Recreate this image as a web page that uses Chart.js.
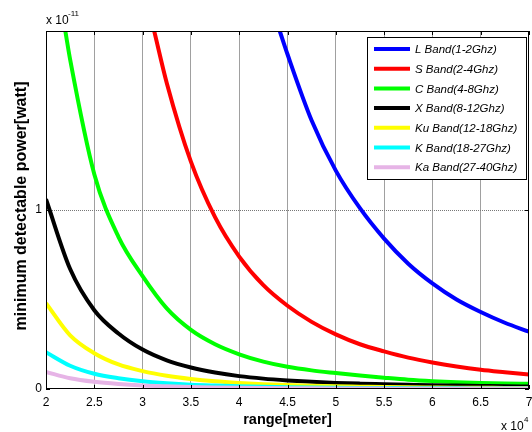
<!DOCTYPE html>
<html>
<head>
<meta charset="utf-8">
<script src="https://cdn.jsdelivr.net/npm/chart.js@4.4.1/dist/chart.umd.min.js"></script>
<style>
  body { margin: 0; background: #fff; }
  canvas { display: block; }
</style>
</head>
<body>
<canvas id="chart" width="532" height="432"></canvas>
<script>
// range in units of 10^4 m, power in units of 10^-11 W
const xs = [2, 2.25, 2.5, 2.75, 3, 3.25, 3.5, 3.75, 4, 4.25, 4.5, 4.75, 5, 5.25, 5.5, 5.75, 6, 6.25, 6.5, 6.75, 7];

const xL = [4.42, 4.5, 4.75, 5, 5.25, 5.5, 5.75, 6, 6.25, 6.5, 6.75, 7];
const bandL = [2.0, 1.87, 1.50, 1.22, 1.01, 0.84, 0.70, 0.59, 0.50, 0.43, 0.37, 0.32];

const xS = [3.12, 3.25, 3.5, 3.75, 4, 4.25, 4.5, 4.75, 5, 5.25, 5.5, 5.75, 6, 6.25, 6.5, 6.75, 7];
const bandS = [2.0, 1.71, 1.27, 0.96, 0.74, 0.58, 0.465, 0.375, 0.305, 0.25, 0.21, 0.175, 0.148, 0.126, 0.108, 0.094, 0.081];

const xC = [2.2, 2.25, 2.5, 2.75, 3, 3.25, 3.5, 3.75, 4, 4.25, 4.5, 4.75, 5, 5.25, 5.5, 5.75, 6, 6.25, 6.5, 6.75, 7];
const bandC = [2.0, 1.84, 1.20, 0.85, 0.63, 0.45, 0.33, 0.25, 0.194, 0.153, 0.124, 0.104, 0.089, 0.075, 0.063, 0.052, 0.044, 0.038, 0.034, 0.031, 0.029];

const bandX = [1.06, 0.67, 0.44, 0.31, 0.22, 0.16, 0.12, 0.092, 0.072, 0.058, 0.048, 0.040, 0.034, 0.030, 0.027, 0.024, 0.021, 0.019, 0.017, 0.015, 0.014];
const bandKu = [0.48, 0.30, 0.20, 0.137, 0.10, 0.074, 0.056, 0.043, 0.034, 0.027, 0.022, 0.018, 0.015, 0.013, 0.011, 0.0095, 0.0085, 0.0075, 0.0068, 0.006, 0.0055];
const bandK = [0.205, 0.13, 0.085, 0.06, 0.043, 0.032, 0.024, 0.019, 0.015, 0.012, 0.010, 0.0085, 0.0072, 0.0062, 0.0054, 0.0047, 0.0042, 0.0037, 0.0033, 0.003, 0.0027];
const bandKa = [0.096, 0.06, 0.04, 0.028, 0.02, 0.015, 0.011, 0.0085, 0.0067, 0.0053, 0.0043, 0.0035, 0.0029, 0.0025, 0.0021, 0.0018, 0.0016, 0.0014, 0.0012, 0.0011, 0.001];

const labels = ['L Band(1-2Ghz)', 'S Band(2-4Ghz)', 'C Band(4-8Ghz)', 'X Band(8-12Ghz)',
  'Ku Band(12-18Ghz)', 'K Band(18-27Ghz)', 'Ka Band(27-40Ghz)'];
const colors = ['#0000ff', '#ff0000', '#00ff00', '#000000', '#ffff00', '#00ffff', '#e6b4e6'];

const xTicks = [2, 2.5, 3, 3.5, 4, 4.5, 5, 5.5, 6, 6.5, 7];
const yTicks = [0, 1];

const series = [[xL, bandL], [xS, bandS], [xC, bandC], [xs, bandX], [xs, bandKu], [xs, bandK], [xs, bandKa]];

const FONT = '"Liberation Sans", Arial, sans-serif';
Chart.defaults.font.family = FONT;
Chart.defaults.font.size = 12;
Chart.defaults.color = '#000';

const frame = {
  id: 'frame',
  afterDraw(chart) {
    const ctx = chart.ctx;
    const a = chart.chartArea;
    const sx = chart.scales.x, sy = chart.scales.y;
    ctx.save();
    ctx.strokeStyle = '#000';
    ctx.lineWidth = 1;
    ctx.strokeRect(a.left + 0.5, a.top + 0.5, a.right - a.left - 1, a.bottom - a.top - 1);
    ctx.beginPath();
    xTicks.forEach(v => {
      const px = Math.round(sx.getPixelForValue(v)) + 0.5;
      ctx.moveTo(px, a.bottom); ctx.lineTo(px, a.bottom - 4);
      ctx.moveTo(px, a.top); ctx.lineTo(px, a.top + 4);
    });
    [0, 1, 2].forEach(v => {
      const py = Math.round(sy.getPixelForValue(v)) + 0.5;
      ctx.moveTo(a.left, py); ctx.lineTo(a.left + 4, py);
      ctx.moveTo(a.right, py); ctx.lineTo(a.right - 4, py);
    });
    ctx.stroke();

    // exponent labels
    ctx.fillStyle = '#000';
    ctx.textBaseline = 'alphabetic';
    ctx.textAlign = 'left';
    ctx.font = '12px ' + FONT;
    ctx.fillText('x 10', 46, 24);
    ctx.font = '8px ' + FONT;
    ctx.fillText('-11', 68, 16);
    ctx.font = '12px ' + FONT;
    ctx.fillText('x 10', 501, 430);
    ctx.font = '8px ' + FONT;
    ctx.fillText('4', 524, 422);

    // axis titles
    ctx.font = 'bold 14.5px ' + FONT;
    ctx.textAlign = 'center';
    ctx.textBaseline = 'middle';
    ctx.fillText('range[meter]', (a.left + a.right) / 2, 420);
    ctx.save();
    ctx.translate(22, 206);
    ctx.rotate(-Math.PI / 2);
    ctx.font = 'bold 16px ' + FONT;
    ctx.fillText('minimum detectable power[watt]', 0, 0);
    ctx.restore();

    // legend box
    const lx = 367, ly = 37, lw = 159, lh = 142;
    ctx.fillStyle = '#fff';
    ctx.fillRect(lx, ly, lw, lh);
    ctx.strokeStyle = '#000';
    ctx.lineWidth = 1;
    ctx.strokeRect(lx + 0.5, ly + 0.5, lw, lh);
    ctx.font = 'italic 11.5px ' + FONT;
    ctx.textAlign = 'left';
    ctx.textBaseline = 'middle';
    chart.data.datasets.forEach((ds, i) => {
      const y = 49 + i * 19.7;
      ctx.strokeStyle = ds.borderColor;
      ctx.lineWidth = 4;
      ctx.beginPath();
      ctx.moveTo(374, y); ctx.lineTo(410, y);
      ctx.stroke();
      ctx.fillStyle = '#000';
      ctx.fillText(ds.label, 415, y + 1);
    });
    ctx.restore();
  }
};

new Chart(document.getElementById('chart'), {
  type: 'line',
  data: {
    datasets: series.map((s, i) => ({
      label: labels[i],
      data: s[0].map((x, j) => ({ x: x, y: s[1][j] })),
      borderColor: colors[i],
      backgroundColor: colors[i],
      borderWidth: 4,
      pointRadius: 0,
      cubicInterpolationMode: 'monotone',
      order: 6 - i
    }))
  },
  options: {
    responsive: false,
    animation: false,
    layout: { padding: { top: 31, right: 3, left: 0, bottom: 0 } },
    plugins: { legend: { display: false }, tooltip: { enabled: false } },
    scales: {
      x: {
        type: 'linear',
        min: 2, max: 7,
        afterBuildTicks: s => { s.ticks = xTicks.map(v => ({ value: v })); },
        afterFit: s => { s.height = 43; s.paddingLeft = 0; s.paddingRight = 0; },
        ticks: { padding: 6, maxRotation: 0, autoSkip: false, callback: v => String(v) },
        grid: {
          drawTicks: false,
          color: c => (c.tick && (c.tick.value === 2 || c.tick.value === 7)) ? 'rgba(0,0,0,0)' : '#a0a0a0',
          lineWidth: 1
        },
        border: { display: false }
      },
      y: {
        min: 0, max: 2,
        afterBuildTicks: s => { s.ticks = yTicks.map(v => ({ value: v })); },
        afterFit: s => { s.width = 46; },
        ticks: { padding: 4, callback: v => String(v) },
        grid: {
          drawTicks: false,
          color: c => (c.tick && c.tick.value === 1) ? '#777' : 'rgba(0,0,0,0)',
          lineWidth: 1
        },
        border: { display: false, dash: [1, 1] }
      }
    }
  },
  plugins: [frame]
});
</script>
</body>
</html>
